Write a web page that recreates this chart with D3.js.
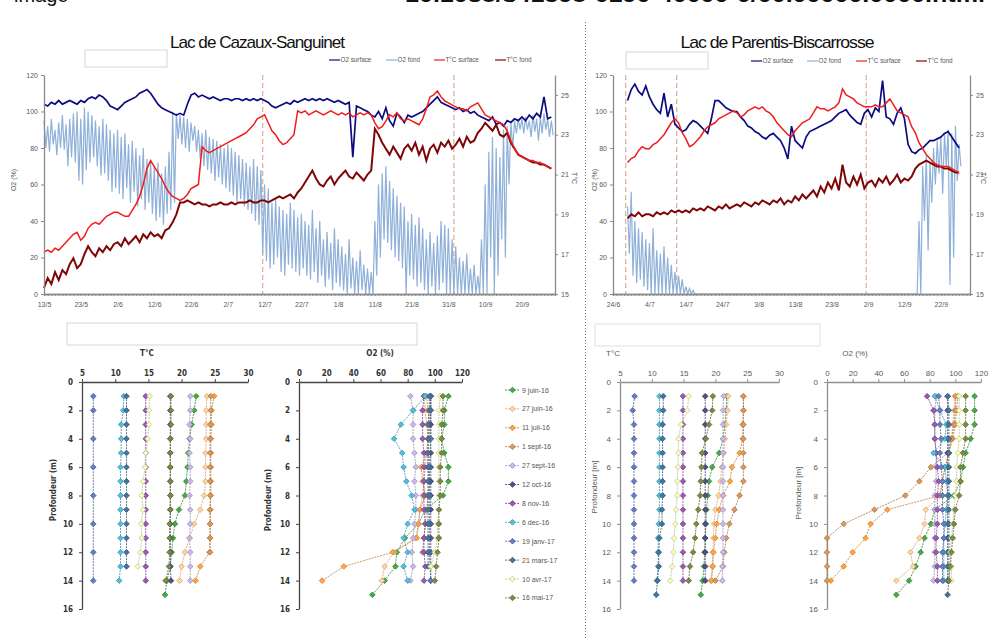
<!DOCTYPE html>
<html>
<head>
<meta charset="utf-8">
<script src="https://cdn.jsdelivr.net/npm/d3@7"></script>
<style>
  body { margin: 0; background: #fff; }
  svg { display: block; }
</style>
</head>
<body>
<svg width="990" height="639"></svg>
<script>
//----- data -----

// top charts : one value per day (O2 fond as day / night pairs)
var cazauxStart = "13/5";
var cazauxO2Surface = [
  104,103,105,104,106,104,105,106,105,104,
  106,105,107,108,107,109,108,106,103,102,
  101,103,105,106,107,108,110,111,112,110,
  107,104,102,101,100,99,98,99,98,104,
  109,110,108,109,108,107,108,107,106,107,
  107,106,107,107,106,107,106,107,106,107,
  106,105,103,102,103,104,105,104,106,105,
  106,107,106,107,106,107,106,107,106,105,
  106,105,104,105,75,103,102,101,100,98,
  97,100,96,102,95,92,99,97,94,98,
  97,98,99,100,102,104,106,108,105,104,
  103,102,101,102,100,101,99,100,98,97,
  96,95,97,93,94,92,95,94,96,95,
  97,95,98,96,99,97,108,96,97
];
var cazauxO2FondHigh = [
  95,92,96,90,94,98,93,96,99,100,
  96,102,100,98,95,92,96,93,90,88,
  90,86,88,82,84,80,76,80,74,72,
  70,72,66,70,78,100,99,98,97,96,
  94,92,90,88,90,86,85,84,82,80,
  82,80,78,76,74,72,70,74,70,68,
  60,58,50,52,48,46,44,50,46,42,
  44,40,38,46,36,40,30,34,28,36,
  30,26,22,30,20,18,24,16,14,12,
  40,60,66,70,62,58,54,50,48,40,
  44,38,42,36,30,34,28,32,40,38,
  36,30,26,20,18,22,14,16,10,30,
  60,78,86,80,75,90,92,94,95,96,
  96,97,95,98,96,97,99,96,95
];
var cazauxO2FondLow = [
  80,78,82,76,80,79,70,75,72,62,
  60,68,72,75,70,65,66,62,56,58,
  55,52,58,50,56,48,52,46,50,44,
  40,42,38,44,46,50,85,82,80,78,
  84,78,74,70,68,66,62,64,60,58,
  56,54,50,52,48,46,44,40,38,22,
  18,14,16,20,12,10,16,14,12,10,
  14,10,8,12,6,10,4,8,2,6,
  4,2,0,3,0,0,2,0,0,0,
  10,20,30,28,24,20,18,14,0,10,
  8,4,6,2,0,4,0,2,6,0,
  0,0,0,0,0,0,0,0,0,0,
  0,20,0,10,30,20,60,80,88,90,
  88,90,86,89,84,88,90,86,87
];
var cazauxTSurface = [
  17.1,17.2,17.1,17.3,17.2,17.4,17.6,17.8,18.0,18.1,
  17.7,17.9,18.3,18.5,18.6,18.5,18.7,18.9,19.0,19.1,
  19.1,19.0,18.9,18.9,19.2,19.5,19.9,20.5,21.3,21.7,
  21.4,21.1,20.8,20.4,20.1,19.9,19.8,19.7,19.8,20.0,
  20.3,20.4,20.5,22.4,22.2,22.1,22.2,22.3,22.4,22.5,
  22.6,22.7,22.8,22.9,23.0,23.1,23.3,23.5,23.8,23.9,
  24.0,23.6,23.2,23.0,22.7,22.5,22.6,22.8,23.0,24.2,
  24.1,24.2,24.0,24.1,24.2,24.1,24.0,24.1,24.2,24.1,
  24.0,24.1,24.0,24.1,23.9,24.0,24.1,24.0,24.1,24.0,
  23.6,23.3,23.4,23.7,24.0,23.9,24.1,23.8,23.7,23.8,
  23.7,23.6,23.5,23.8,24.3,24.9,25.0,25.2,24.9,24.7,
  24.6,24.5,24.4,24.3,24.3,24.2,24.4,24.5,24.6,24.3,
  24.0,23.9,23.8,23.7,23.6,23.5,23.2,22.7,22.3,22.0,
  21.9,21.8,21.7,21.7,21.6,21.6,21.5,21.4,21.3
];
var cazauxTFond = [
  15.3,15.8,15.5,16.1,15.7,16.2,16.0,16.5,16.8,16.3,
  16.5,17.0,17.4,17.1,16.9,17.3,17.1,17.4,17.2,17.5,
  17.6,17.4,17.8,17.5,17.7,17.9,17.6,18.0,17.8,18.1,
  17.9,18.0,17.8,18.2,18.3,18.6,19.0,19.6,19.6,19.7,
  19.6,19.5,19.6,19.5,19.5,19.4,19.5,19.5,19.6,19.5,
  19.5,19.6,19.5,19.6,19.6,19.6,19.7,19.6,19.6,19.7,
  19.7,19.6,19.7,19.8,19.9,19.8,19.9,20.0,19.8,20.1,
  20.3,20.6,20.9,21.2,20.8,20.5,20.4,20.7,20.9,20.5,
  20.8,21.0,21.2,20.9,20.8,21.1,20.9,20.7,21.0,21.2,
  23.3,23.0,22.6,22.3,22.0,22.4,22.1,21.8,22.3,22.5,
  22.2,22.6,22.0,22.4,21.7,22.3,22.5,22.1,22.6,22.4,
  22.7,22.3,22.5,22.8,22.4,22.9,22.6,22.7,23.1,23.3,
  23.6,23.4,23.2,23.5,23.0,22.9,23.1,22.6,22.3,22.0,
  21.9,21.8,21.7,21.6,21.6,21.5,21.5,21.4,21.3
];

var parentisStart = "28/6";
var parentisO2Surface = [
  106,112,115,111,109,114,108,104,101,99,
  110,97,104,93,91,89,90,93,95,94,
  92,90,88,96,106,106,104,102,101,100,
  100,97,95,92,91,89,88,86,85,87,
  88,86,84,80,74,92,84,82,80,86,
  89,90,91,92,93,94,95,97,99,100,
  101,98,96,94,93,99,101,97,102,100,
  117,97,96,93,99,102,96,82,78,77,
  79,80,82,84,84,85,86,88,89,86,
  83,80
];
var parentisO2FondHigh = [
  48,56,40,36,34,30,28,36,24,22,
  26,20,16,12,10,8,4,3,2,0,
  0,0,0,0,0,0,0,0,0,0,
  0,0,0,0,0,0,0,0,0,0,
  0,0,0,0,0,0,0,0,0,0,
  0,0,0,0,0,0,0,0,0,0,
  0,0,0,0,0,0,0,0,0,0,
  0,0,0,0,0,0,0,0,0,0,
  40,70,76,72,80,84,86,88,90,88,
  92,82
];
var parentisO2FondLow = [
  22,10,6,8,4,2,0,0,0,0,
  0,0,0,0,0,0,0,0,0,0,
  0,0,0,0,0,0,0,0,0,0,
  0,0,0,0,0,0,0,0,0,0,
  0,0,0,0,0,0,0,0,0,0,
  0,0,0,0,0,0,0,0,0,0,
  0,0,0,0,0,0,0,0,0,0,
  0,0,0,0,0,0,0,0,0,0,
  0,40,24,50,60,66,55,70,5,20,
  62,70
];
var parentisTSurface = [
  21.6,21.8,21.9,22.2,22.4,22.3,22.3,22.5,22.6,22.8,
  23.0,23.3,23.6,23.8,23.6,23.1,22.8,22.4,22.5,22.7,
  22.9,23.2,23.4,23.5,23.6,23.8,23.9,24.0,24.1,24.2,
  24.1,23.9,24.0,24.2,24.3,24.4,24.3,24.4,24.2,24.1,
  23.9,23.6,23.4,23.2,23.0,22.9,23.2,23.4,23.6,23.7,
  23.8,24.1,24.4,24.3,24.3,24.2,24.3,24.4,24.6,25.3,
  25.0,24.9,24.8,24.6,24.5,24.4,24.4,24.4,24.5,24.4,
  24.4,24.6,24.8,24.5,24.2,24.1,24.0,23.9,23.4,23.1,
  22.6,22.3,22.0,21.8,21.6,21.5,21.4,21.4,21.4,21.3,
  21.2,21.1
];
var parentisTFond = [
  18.8,19.0,18.9,19.1,18.9,19.0,19.0,18.9,19.1,19.0,
  19.1,19.0,19.2,19.1,19.2,19.1,19.2,19.1,19.3,19.2,
  19.3,19.2,19.4,19.3,19.2,19.4,19.3,19.5,19.3,19.4,
  19.5,19.4,19.6,19.5,19.4,19.6,19.5,19.7,19.6,19.5,
  19.7,19.6,19.8,19.5,19.7,19.6,19.9,19.7,20.0,19.8,
  20.0,20.2,19.9,20.4,20.1,20.6,20.3,20.8,20.2,21.5,
  20.6,20.4,20.9,20.5,21.0,20.3,20.6,20.7,20.4,20.8,
  20.6,20.9,20.5,20.7,21.0,20.6,20.8,20.7,20.9,21.3,
  21.5,21.6,21.7,21.6,21.5,21.4,21.4,21.3,21.3,21.2,
  21.1,21.1
];

// axis ticks and profile dates of the top charts
var cazauxTicks = ["13/5","23/5","2/6","12/6","22/6","2/7","12/7","22/7","1/8","11/8","21/8","31/8","10/9","20/9"];
var parentisTicks = ["24/6","4/7","14/7","24/7","3/8","13/8","23/8","2/9","12/9","22/9"];
var cazauxProfileDays = ["11/7","1/9"];
var parentisProfileDays = ["27/6","11/7","1/9"];
var seriesNames = ["O2 surface","O2 fond","T°C surface","T°C fond"];

// depth profiles
var profileDates = ["9 juin-16","27 juin-16","11 juil-16","1 sept-16","27 sept-16","12 oct-16",
                    "8 nov-16","6 dec-16","19 janv-17","21 mars-17","10 avr-17","16 mai-17"];

var cazauxDepth = [
  [1,2,3,4,5,6,7,8,9,10,11,12,13,14,15],
  [1,2,3,4,5,6,7,8,9,10,11,12,13,14],
  [1,2,3,4,5,6,7,8,9,10,11,12,13,14],
  [1,2,3,4,5,6,7,8,9,10,11,12],
  [1,2,3,4,5,6,7,8,9,10,11,12,13,14],
  [1,2,3,4,5,6,7,8,9,10,11,12,13,14],
  [1,2,3,4,5,6,7,8,9,10,11,12,13,14],
  [1,2,3,4,5,6,7,8,9,10,11,12,13,14],
  [1,2,4,6,8,10,12,14],
  [1,2,3,4,5,6,7,8,9,10,11,12,13],
  [1,2,3,4,5,6,7,8,9,10,11,12,13],
  [1,2,3,4,5,6,7,8,9,10,11,12,13,14]
];
var cazauxTemp = [
  [22.2,21.9,21.5,21.2,21.0,20.9,20.7,20.5,19.6,19.0,18.7,18.5,18.3,17.8,17.5],
  [23.8,23.7,23.7,23.7,23.6,23.6,23.6,23.4,22.8,21.9,21.2,20.5,20.0,19.7],
  [24.9,24.5,24.5,24.4,24.4,24.4,24.4,24.4,24.3,24.3,24.3,24.2,22.8,22.1],
  [24.4,24.4,24.3,24.3,24.3,24.3,24.3,24.3,24.3,24.3,24.3,24.3],
  [21.3,21.3,21.2,21.3,21.2,21.3,21.3,21.2,21.3,21.3,21.2,21.3,21.3,21.3],
  [18.3,18.3,18.3,18.3,18.3,18.3,18.3,18.3,18.3,18.3,18.3,18.3,18.3,18.4],
  [14.6,14.6,14.6,14.6,14.6,14.6,14.6,14.6,14.6,14.6,14.6,14.6,14.6,14.6],
  [11.3,11.2,10.9,10.9,10.9,10.8,10.8,10.8,10.8,10.8,10.8,10.8,10.8,10.6],
  [6.7,6.7,6.7,6.7,6.7,6.7,6.7,6.7],
  [11.7,11.7,11.7,11.7,11.7,11.7,11.7,11.7,11.7,11.7,11.7,11.7,11.7],
  [15.2,15.1,15.1,14.9,14.6,14.5,14.2,14.0,14.2,13.9,14.0,13.8,13.4],
  [18.4,18.4,18.4,18.3,18.3,18.3,18.3,18.3,18.3,18.2,18.2,18.2,18.1,17.6]
];
var cazauxO2 = [
  [110,107,107,105,107,110,110,106,93,88,78,72,71,63,54],
  [92,93,94,95,94,93,92,91,89,88,87,70,63,61],
  [94,95,96,95,94,90,91,93,89,88,86,69,33,17],
  [97,97,96,96,95,95,96,95,94,93,92,91],
  [82,84,84,84,85,86,85,86,86,85,84,83,84,82],
  [97,97,97,97,97,97,97,97,97,97,97,97,97,97],
  [92,91,91,91,92,92,92,92,92,93,92,92,93,92],
  [93,84,75,70,76,77,79,83,85,80,77,80,77,80],
  [97,97,97,96,96,96,96,97],
  [96,96,95,95,95,95,95,95,95,95,95,95,95],
  [104,103,103,103,103,103,103,103,103,102,102,100,97],
  [106,106,105,105,105,104,104,104,103,103,103,102,101,100]
];

var parentisDepth = [
  [1,2,3,4,5,6,7,8,9,10,11,12,13,14,15],
  [1,2,3,4,5,6,7,8,9,10,11,12,13,14],
  [1,2,3,4,5,6,7,8,9,10,11,12,13,14],
  [1,2,3,4,5,6,7,8,9,10,11,12,13,14],
  [1,2,3,4,5,6,7,8,9,10,11,12,13,14],
  [1,2,3,4,5,6,7,8,9,10,11,12,13,14],
  [1,2,3,4,5,6,7,8,9,10,11,12,13,14],
  [1,2,3,4,5,6,7,8,9,10,11,12,13,14],
  [1,2,3,4,5,6,7,8,9,10,11,12,13,14],
  [1,2,3,4,5,6,7,8,9,10,11,12,13,14,15],
  [1,2,3,4,5,6,7,8,9,10,11,12,13,14],
  [1,2,3,4,5,6,7,8,9,10,11,12,13,14]
];
var parentisTemp = [
  [21.8,21.7,21.5,21.2,20.6,19.5,19.0,18.8,18.6,18.5,18.4,18.3,18.2,18.0,17.7],
  [22.0,21.9,21.7,21.5,21.3,21.0,20.8,20.5,20.0,19.8,19.7,19.6,19.5,19.3],
  [24.4,24.4,24.3,24.3,23.8,22.6,22.3,21.2,20.6,20.2,20.0,19.7,19.6,19.4],
  [24.4,24.4,24.4,24.4,24.4,24.4,24.4,23.8,23.0,22.2,21.7,21.4,21.2,20.0],
  [21.3,21.2,21.2,21.2,21.2,21.2,21.2,21.2,21.2,21.2,21.2,21.2,21.1,21.1],
  [18.4,18.4,18.4,18.4,18.4,18.4,18.4,18.4,18.4,18.4,18.4,18.4,18.4,18.4],
  [14.9,14.9,14.9,14.9,14.9,14.9,14.9,14.9,14.9,14.9,14.9,14.9,14.9,14.9],
  [11.2,11.2,11.2,11.2,11.2,11.2,11.2,11.2,11.2,11.1,11.0,11.0,11.0,10.8],
  [7.3,7.0,7.2,7.2,7.2,7.2,7.2,7.2,7.2,7.2,7.2,7.2,7.2,7.2],
  [11.8,11.8,11.7,11.7,11.7,11.7,11.7,11.7,11.6,11.6,11.2,11.1,11.1,10.9,10.7],
  [15.8,15.6,14.6,14.2,14.2,14.1,14.0,14.0,13.8,13.7,13.5,13.4,13.2,12.9],
  [19.6,19.5,19.0,18.5,17.9,17.8,17.7,17.6,17.3,17.0,16.8,16.5,16.0,15.8]
];
var parentisO2 = [
  [115,115,115,112,108,106,104,99,84,81,76,73,69,64,54],
  [100,99,98,97,95,92,90,88,77,76,72,65,67,54],
  [102,101,100,98,95,92,90,88,47,34,30,20,13,3],
  [100,100,99,97,94,81,72,61,37,13,0,0,0,0],
  [85,84,84,84,85,85,85,84,84,84,84,84,84,83],
  [94,94,94,94,94,94,94,94,94,94,94,94,94,94],
  [78,83,84,84,85,86,87,86,86,86,85,85,86,86],
  [84,88,93,92,83,92,93,94,93,92,91,91,91,91],
  [87,88,88,89,88,89,90,90,90,91,91,90,90,90],
  [94,95,95,95,95,95,95,95,95,95,95,95,95,95,94],
  [103,103,103,103,102,101,101,100,99,98,97,96,97,97],
  [108,108,108,108,106,104,104,103,100,99,98,97,96,95]
];

var profileColors = ["#3f9a3f","#f7c08c","#f0943a","#c58a52","#b6a6d6","#4a4877",
                     "#8b4fa2","#4bacc6","#5a70b0","#3d6a8c","#dde5a8","#6e7e3b"];
var seriesColors = ["#0c0c7e","#8fb0d8","#f01c1c","#7f0606"];

//----- drawing -----
var svg = d3.select("svg");
var dm = d3.timeParse("%d/%m/%Y");
function day(s) { return dm(s + "/2016"); }

var NARROW = '"Liberation Sans Narrow","DejaVu Sans Condensed",sans-serif';
var SANS = '"Liberation Sans",Arial,sans-serif';

// cropped caption text at the very top of the page
svg.append("text").attr("x", 14).attr("y", 2)
  .attr("font-family", SANS).attr("font-size", 20).attr("fill", "#111").text("image");
svg.append("text").attr("x", 405).attr("y", 2)
  .attr("font-family", SANS).attr("font-size", 20).attr("font-weight", "bold").attr("fill", "#111")
  .attr("textLength", 580).attr("lengthAdjust", "spacingAndGlyphs")
  .text("10.1038/s41598-0190-40000-0/00.00000.0000.html");

// dotted separator
svg.append("line").attr("x1", 585.5).attr("x2", 585.5).attr("y1", 22).attr("y2", 639)
  .attr("stroke", "#777").attr("stroke-width", 1).attr("stroke-dasharray", "1,2");

function daily(start, vals) {
  return vals.map(function (v, i) { return { t: d3.timeDay.offset(start, i), v: v }; });
}
function dayNight(start, hi, lo) {
  var out = [];
  hi.forEach(function (h, i) {
    var d = d3.timeDay.offset(start, i);
    out.push({ t: d, v: h });
    out.push({ t: d3.timeHour.offset(d, 12), v: lo[i] });
  });
  return out;
}

function styleAxis(g, color, fontFamily, size, weight, textColor) {
  g.attr("font-family", fontFamily).attr("font-size", size).attr("font-weight", weight || "normal");
  g.select(".domain").attr("stroke", color).attr("stroke-width", 1.3);
  g.selectAll(".tick line").attr("stroke", color);
  g.selectAll(".tick text").attr("fill", textColor || "#595959");
}

function drawTop(o) {
  var g = svg.append("g");
  var start = day(o.start);
  var x = d3.scaleTime().domain([day(o.from), day(o.to)]).range([o.left, o.right]);
  var yO2 = d3.scaleLinear().domain([0, 120]).range([294, o.top]);
  var yT = d3.scaleLinear().domain([15, 26]).range([294, o.top]);

  // title, empty box, legend
  g.append("text").attr("x", o.titleX).attr("y", 48).attr("text-anchor", "middle")
    .attr("font-family", SANS).attr("font-size", 17).attr("letter-spacing", -1)
    .attr("textLength", o.titleW).attr("lengthAdjust", "spacingAndGlyphs")
    .attr("fill", "#111").text(o.title);
  g.append("rect").attr("x", o.box[0]).attr("y", o.box[1]).attr("width", o.box[2]).attr("height", o.box[3])
    .attr("fill", "#fff").attr("stroke", "#d6d6d6").attr("stroke-width", 1);
  seriesNames.forEach(function (n, i) {
    var lx = o.legendX[i];
    g.append("line").attr("x1", lx).attr("x2", lx + 11).attr("y1", o.legendY).attr("y2", o.legendY)
      .attr("stroke", seriesColors[i]).attr("stroke-width", 1.2);
    g.append("text").attr("x", lx + 11.5).attr("y", o.legendY + 2.2)
      .attr("font-family", SANS).attr("font-size", 6.3).attr("fill", "#555").text(n);
  });

  // profile sampling dates
  g.selectAll(".pd").data(o.profileDays).enter().append("line")
    .attr("x1", function (d) { return x(d3.timeHour.offset(day(d), 12)); })
    .attr("x2", function (d) { return x(d3.timeHour.offset(day(d), 12)); })
    .attr("y1", o.top).attr("y2", 294)
    .attr("stroke", "#d29c84").attr("stroke-width", 1).attr("stroke-dasharray", "5,3");

  var lineO2 = d3.line().x(function (d) { return x(d.t); }).y(function (d) { return yO2(d.v); });
  var lineT = d3.line().x(function (d) { return x(d.t); }).y(function (d) { return yT(d.v); });

  g.append("path").attr("d", lineO2(dayNight(start, o.o2fHi, o.o2fLo)))
    .attr("fill", "none").attr("stroke", seriesColors[1]).attr("stroke-width", 1.2);
  g.append("path").attr("d", lineO2(daily(start, o.o2s)))
    .attr("fill", "none").attr("stroke", seriesColors[0]).attr("stroke-width", 1.7);
  g.append("path").attr("d", lineT(daily(start, o.tf)))
    .attr("fill", "none").attr("stroke", seriesColors[3]).attr("stroke-width", 2);
  g.append("path").attr("d", lineT(daily(start, o.ts)))
    .attr("fill", "none").attr("stroke", seriesColors[2]).attr("stroke-width", 1.5);

  // axes
  var ax = g.append("g").attr("transform", "translate(0,294)")
    .call(d3.axisBottom(x).ticks(d3.timeDay.every(1)).tickSize(2).tickFormat(""));
  styleAxis(ax, "#8a8a8a", SANS, 7);
  var ax2 = g.append("g").attr("transform", "translate(0,294)")
    .call(d3.axisBottom(x).tickValues(o.ticks.map(day)).tickSize(0).tickPadding(8)
      .tickFormat(d3.timeFormat("%-d/%-m")));
  styleAxis(ax2, "#8a8a8a", SANS, 7);

  var al = g.append("g").attr("transform", "translate(" + o.left + ",0)")
    .call(d3.axisLeft(yO2).tickValues([0, 20, 40, 60, 80, 100, 120]).tickSize(3).tickSizeOuter(0).tickPadding(3));
  styleAxis(al, "#8a8a8a", SANS, 7);
  var ar = g.append("g").attr("transform", "translate(" + o.right + ",0)")
    .call(d3.axisRight(yT).tickValues([15, 17, 19, 21, 23, 25]).tickSize(3).tickSizeOuter(0).tickPadding(3));
  styleAxis(ar, "#8a8a8a", SANS, 7);

  g.append("text").attr("transform", "translate(" + o.yLabelX + ",180) rotate(-90)")
    .attr("text-anchor", "middle").attr("font-family", SANS).attr("font-size", 7).attr("fill", "#595959")
    .text("O2 (%)");
  g.append("text").attr("transform", "translate(" + o.tLabelX + ",178) rotate(90)")
    .attr("text-anchor", "middle").attr("font-family", SANS).attr("font-size", 7).attr("fill", "#595959")
    .text("T°C");
}

drawTop({
  title: "Lac de Cazaux-Sanguinet", titleX: 257, titleW: 174,
  box: [85, 50, 82, 17], legendY: 60, legendX: [329, 386, 434, 495],
  from: "13/5", to: "29/9", start: cazauxStart, left: 44, right: 555, top: 75,
  ticks: cazauxTicks, profileDays: cazauxProfileDays,
  o2s: cazauxO2Surface, o2fHi: cazauxO2FondHigh, o2fLo: cazauxO2FondLow,
  ts: cazauxTSurface, tf: cazauxTFond, yLabelX: 16, tLabelX: 572
});
drawTop({
  title: "Lac de Parentis-Biscarrosse", titleX: 777, titleW: 193,
  box: [626, 52, 82, 17], legendY: 61, legendX: [751, 807, 856, 916],
  from: "24/6", to: "30/9", start: parentisStart, left: 613, right: 970, top: 75,
  ticks: parentisTicks, profileDays: parentisProfileDays,
  o2s: parentisO2Surface, o2fHi: parentisO2FondHigh, o2fLo: parentisO2FondLow,
  ts: parentisTSurface, tf: parentisTFond, yLabelX: 597, tLabelX: 981
});

// empty boxes above the profiles
svg.append("rect").attr("x", 67).attr("y", 323).attr("width", 350).attr("height", 22)
  .attr("fill", "#fff").attr("stroke", "#d6d6d6");
svg.append("rect").attr("x", 595).attr("y", 324).attr("width", 225).attr("height", 22)
  .attr("fill", "#fff").attr("stroke", "#e0e0e0");

var marker = d3.symbol(d3.symbolDiamond2, 20);

function drawProfile(o) {
  var g = svg.append("g");
  var x = d3.scaleLinear().domain(o.domain).range([o.x0, o.x1]);
  var y = d3.scaleLinear().domain([0, 16]).range([382, 609]);

  var at = g.append("g").attr("transform", "translate(0,382)")
    .call(d3.axisTop(x).tickValues(o.ticks).tickSize(3).tickSizeOuter(0).tickPadding(3));
  styleAxis(at, o.axisColor, o.font, 8, o.weight, o.textColor);
  var al = g.append("g").attr("transform", "translate(" + o.x0 + ",0)")
    .call(d3.axisLeft(y).tickValues([0, 2, 4, 6, 8, 10, 12, 14, 16]).tickSize(3).tickSizeOuter(0).tickPadding(o.pad));
  styleAxis(al, o.axisColor, o.font, 8, o.weight, o.textColor);

  g.append("text").attr("x", o.titleX).attr("y", 356).attr("text-anchor", "middle")
    .attr("font-family", o.font).attr("font-size", 8).attr("font-weight", o.weight)
    .attr("fill", o.textColor).text(o.title);
  g.append("text").attr("transform", "translate(" + o.depthLabelX + "," + o.depthLabelY + ") rotate(-90)")
    .attr("text-anchor", "middle").attr("font-family", o.font).attr("font-size", 8)
    .attr("font-weight", o.weight).attr("fill", o.textColor).text(o.depthLabel);

  var line = d3.line().x(function (d) { return x(d[1]); }).y(function (d) { return y(d[0]); });
  o.values.forEach(function (vals, i) {
    var pts = o.depths[i].map(function (dp, j) { return [dp, vals[j]]; });
    var c = profileColors[i];
    g.append("path").attr("d", line(pts)).attr("fill", "none")
      .attr("stroke", d3.color(c).darker(0.5)).attr("stroke-width", 0.8).attr("stroke-dasharray", "2,1");
    g.selectAll(null).data(pts).enter().append("path")
      .attr("d", marker)
      .attr("transform", function (d) { return "translate(" + x(d[1]) + "," + y(d[0]) + ")"; })
      .attr("fill", d3.color(c).brighter(0.3)).attr("stroke", d3.color(c).darker(0.3)).attr("stroke-width", 0.9);
  });
}

drawProfile({ domain: [5, 30], ticks: [5, 10, 15, 20, 25, 30], x0: 82, x1: 248, title: "T°C", titleX: 147,
  depthLabel: "Profondeur (m)", depthLabelX: 56, depthLabelY: 490, pad: 6,
  values: cazauxTemp, depths: cazauxDepth, axisColor: "#444", font: NARROW, weight: "bold", textColor: "#333" });
drawProfile({ domain: [0, 120], ticks: [0, 20, 40, 60, 80, 100, 120], x0: 299, x1: 462, title: "O2 (%)", titleX: 380,
  depthLabel: "Profondeur (m)", depthLabelX: 271, depthLabelY: 500, pad: 6,
  values: cazauxO2, depths: cazauxDepth, axisColor: "#444", font: NARROW, weight: "bold", textColor: "#333" });
drawProfile({ domain: [5, 30], ticks: [5, 10, 15, 20, 25, 30], x0: 620, x1: 779, title: "T°C", titleX: 613,
  depthLabel: "Profondeur [m]", depthLabelX: 597, depthLabelY: 487, pad: 6,
  values: parentisTemp, depths: parentisDepth, axisColor: "#8f8f8f", font: SANS, weight: "normal", textColor: "#595959" });
drawProfile({ domain: [0, 120], ticks: [0, 20, 40, 60, 80, 100, 120], x0: 827, x1: 981, title: "O2 (%)", titleX: 855,
  depthLabel: "Profondeur [m]", depthLabelX: 801, depthLabelY: 493, pad: 6,
  values: parentisO2, depths: parentisDepth, axisColor: "#8f8f8f", font: SANS, weight: "normal", textColor: "#595959" });

// legend of the sampling dates
var leg = svg.append("g");
profileDates.forEach(function (d, i) {
  var ly = 390 + i * 18.9, c = profileColors[i];
  leg.append("line").attr("x1", 505).attr("x2", 520).attr("y1", ly).attr("y2", ly)
    .attr("stroke", d3.color(c).darker(0.5)).attr("stroke-width", 0.8).attr("stroke-dasharray", "2,1");
  leg.append("path").attr("d", marker).attr("transform", "translate(512.5," + ly + ")")
    .attr("fill", d3.color(c).brighter(0.3)).attr("stroke", d3.color(c).darker(0.3)).attr("stroke-width", 0.9);
  leg.append("text").attr("x", 522).attr("y", ly + 2.5).attr("font-family", SANS).attr("font-size", 7)
    .attr("fill", "#555").text(d);
});
</script>
</body>
</html>
